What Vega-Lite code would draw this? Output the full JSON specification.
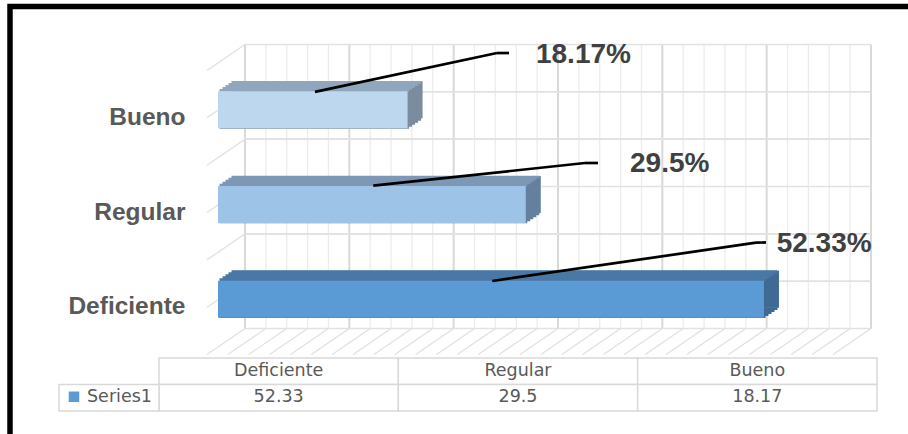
{
  "$schema": "https://vega.github.io/schema/vega-lite/v6.json",
  "width": 898,
  "height": 427.5,
  "autosize": "none",
  "padding": {"left": 10, "top": 6.5, "right": 0, "bottom": 0},
  "background": "white",
  "view": {"stroke": "#000000", "strokeWidth": 5.5, "strokeDash": [898, 1325.5, 427.5], "strokeCap": "square", "fill": "white"},
  "config": {
    "axis": {"disable": true},
    "legend": {"disable": true},
    "locale": {"number": {"decimal": ".", "thousands": ",", "grouping": [3], "currency": ["", "%"]}}
  },
  "datasets": {
    "scores": [
      {"cat": "Deficiente", "value": 52.33},
      {"cat": "Regular", "value": 29.5},
      {"cat": "Bueno", "value": 18.17}
    ],
    "gridlines": [
      {"v": 0}, {"v": 2}, {"v": 4}, {"v": 6}, {"v": 8}, {"v": 10}, {"v": 12}, {"v": 14}, {"v": 16}, {"v": 18},
      {"v": 20}, {"v": 22}, {"v": 24}, {"v": 26}, {"v": 28}, {"v": 30}, {"v": 32}, {"v": 34}, {"v": 36}, {"v": 38},
      {"v": 40}, {"v": 42}, {"v": 44}, {"v": 46}, {"v": 48}, {"v": 50}, {"v": 52}, {"v": 54}, {"v": 56}, {"v": 58}, {"v": 60}
    ],
    "series": [{"series": "Series1"}]
  },
  "layer": [
    {
      "layer": [
        {
          "data": {"name": "gridlines"},
          "mark": {"type": "rule"},
          "encoding": {
            "x": {"field": "v", "type": "quantitative", "scale": {"domain": [0, 60], "range": [235, 861], "nice": false, "zero": false}},
            "y": {"datum": "Bueno", "type": "nominal", "bandPosition": 0, "scale": {"domain": ["Bueno", "Regular", "Deficiente"], "range": [38, 322], "paddingInner": 0, "paddingOuter": 0}},
            "y2": {"datum": "Deficiente", "bandPosition": 1},
            "color": {"condition": {"test": "datum.v % 10 === 0", "value": "#d9d9d9"}, "value": "#ececec"},
            "strokeWidth": {"condition": {"test": "datum.v % 10 === 0", "value": 2}, "value": 1.3}
          }
        },
        {
          "data": {"name": "gridlines"},
          "mark": {"type": "rule", "color": "#e0e0e0", "strokeWidth": 1.2, "x2Offset": -38, "y2Offset": 26},
          "encoding": {
            "x": {"field": "v", "type": "quantitative"},
            "x2": {"field": "v"},
            "y": {"datum": "Deficiente", "type": "nominal", "bandPosition": 1},
            "y2": {"datum": "Deficiente", "bandPosition": 1}
          }
        },
        {
          "data": {"name": "scores"},
          "mark": {"type": "rule", "color": "#e2e2e2", "strokeWidth": 1.6},
          "encoding": {
            "y": {"field": "cat", "type": "nominal", "bandPosition": 0},
            "x": {"datum": 0, "type": "quantitative"},
            "x2": {"datum": 60}
          }
        },
        {
          "data": {"name": "scores"},
          "mark": {"type": "rule", "color": "#e2e2e2", "strokeWidth": 1.6},
          "encoding": {
            "y": {"field": "cat", "type": "nominal", "bandPosition": 0.5},
            "x": {"datum": 0, "type": "quantitative"},
            "x2": {"datum": 60}
          }
        },
        {
          "data": {"name": "scores"},
          "mark": {"type": "rule", "color": "#e2e2e2", "strokeWidth": 1.6},
          "encoding": {
            "y": {"field": "cat", "type": "nominal", "bandPosition": 1},
            "x": {"datum": 0, "type": "quantitative"},
            "x2": {"datum": 60}
          }
        },
        {
          "data": {"name": "scores"},
          "mark": {"type": "rule", "color": "#e0e0e0", "strokeWidth": 1.3, "x2Offset": -38, "y2Offset": 26},
          "encoding": {
            "x": {"datum": 0, "type": "quantitative"},
            "x2": {"datum": 0},
            "y": {"field": "cat", "type": "nominal", "bandPosition": 0},
            "y2": {"field": "cat", "bandPosition": 0}
          }
        },
        {
          "data": {"name": "scores"},
          "mark": {"type": "rule", "color": "#e0e0e0", "strokeWidth": 1.3, "x2Offset": -38, "y2Offset": 26},
          "encoding": {
            "x": {"datum": 0, "type": "quantitative"},
            "x2": {"datum": 0},
            "y": {"field": "cat", "type": "nominal", "bandPosition": 0.5},
            "y2": {"field": "cat", "bandPosition": 0.5}
          }
        },
        {
          "data": {"name": "scores"},
          "mark": {"type": "text", "align": "right", "baseline": "alphabetic", "dx": -59.5, "dy": 33, "font": "Liberation Sans", "fontWeight": "bold", "fontSize": 24.5, "color": "#595959"},
          "encoding": {
            "x": {"datum": 0, "type": "quantitative"},
            "y": {"field": "cat", "type": "nominal"},
            "text": {"field": "cat"}
          }
        },
        {
          "data": {"name": "scores"},
          "mark": {"type": "bar", "size": 37, "xOffset": -12, "yOffset": 8},
          "encoding": {
            "x": {"field": "value", "type": "quantitative"},
            "y": {"field": "cat", "type": "nominal"},
            "fill": {"condition": [{"test": "datum.cat === 'Deficiente'", "value": "#3E6A94"}, {"test": "datum.cat === 'Regular'", "value": "#64809E"}], "value": "#7A8C9E"}
          }
        },
        {
          "data": {"name": "scores"},
          "mark": {"type": "bar", "size": 2.6, "xOffset": -13.5, "yOffset": 27.5},
          "encoding": {
            "x": {"field": "value", "type": "quantitative"},
            "y": {"field": "cat", "type": "nominal"},
            "fill": {"condition": [{"test": "datum.cat === 'Deficiente'", "value": "#3E6A94"}, {"test": "datum.cat === 'Regular'", "value": "#64809E"}], "value": "#7A8C9E"}
          }
        },
        {
          "data": {"name": "scores"},
          "mark": {"type": "bar", "size": 2.6, "xOffset": -16.5, "yOffset": 29.5},
          "encoding": {
            "x": {"field": "value", "type": "quantitative"},
            "y": {"field": "cat", "type": "nominal"},
            "fill": {"condition": [{"test": "datum.cat === 'Deficiente'", "value": "#3E6A94"}, {"test": "datum.cat === 'Regular'", "value": "#64809E"}], "value": "#7A8C9E"}
          }
        },
        {
          "data": {"name": "scores"},
          "mark": {"type": "bar", "size": 2.6, "xOffset": -19.5, "yOffset": 31.5},
          "encoding": {
            "x": {"field": "value", "type": "quantitative"},
            "y": {"field": "cat", "type": "nominal"},
            "fill": {"condition": [{"test": "datum.cat === 'Deficiente'", "value": "#3E6A94"}, {"test": "datum.cat === 'Regular'", "value": "#64809E"}], "value": "#7A8C9E"}
          }
        },
        {
          "data": {"name": "scores"},
          "mark": {"type": "bar", "size": 2.6, "xOffset": -22.5, "yOffset": 33.5},
          "encoding": {
            "x": {"field": "value", "type": "quantitative"},
            "y": {"field": "cat", "type": "nominal"},
            "fill": {"condition": [{"test": "datum.cat === 'Deficiente'", "value": "#3E6A94"}, {"test": "datum.cat === 'Regular'", "value": "#64809E"}], "value": "#7A8C9E"}
          }
        },
        {
          "data": {"name": "scores"},
          "mark": {"type": "bar", "size": 2.6, "xOffset": -25.5, "yOffset": 35.5},
          "encoding": {
            "x": {"field": "value", "type": "quantitative"},
            "y": {"field": "cat", "type": "nominal"},
            "fill": {"condition": [{"test": "datum.cat === 'Deficiente'", "value": "#3E6A94"}, {"test": "datum.cat === 'Regular'", "value": "#64809E"}], "value": "#7A8C9E"}
          }
        },
        {
          "data": {"name": "scores"},
          "mark": {"type": "bar", "size": 2.6, "xOffset": -13.5, "yOffset": -9.5},
          "encoding": {
            "x": {"field": "value", "type": "quantitative"},
            "y": {"field": "cat", "type": "nominal"},
            "fill": {"condition": [{"test": "datum.cat === 'Deficiente'", "value": "#4A78A6"}, {"test": "datum.cat === 'Regular'", "value": "#7C98B4"}], "value": "#8FA6BC"}
          }
        },
        {
          "data": {"name": "scores"},
          "mark": {"type": "bar", "size": 2.6, "xOffset": -16.5, "yOffset": -7.5},
          "encoding": {
            "x": {"field": "value", "type": "quantitative"},
            "y": {"field": "cat", "type": "nominal"},
            "fill": {"condition": [{"test": "datum.cat === 'Deficiente'", "value": "#4A78A6"}, {"test": "datum.cat === 'Regular'", "value": "#7C98B4"}], "value": "#8FA6BC"}
          }
        },
        {
          "data": {"name": "scores"},
          "mark": {"type": "bar", "size": 2.6, "xOffset": -19.5, "yOffset": -5.5},
          "encoding": {
            "x": {"field": "value", "type": "quantitative"},
            "y": {"field": "cat", "type": "nominal"},
            "fill": {"condition": [{"test": "datum.cat === 'Deficiente'", "value": "#4A78A6"}, {"test": "datum.cat === 'Regular'", "value": "#7C98B4"}], "value": "#8FA6BC"}
          }
        },
        {
          "data": {"name": "scores"},
          "mark": {"type": "bar", "size": 2.6, "xOffset": -22.5, "yOffset": -3.5},
          "encoding": {
            "x": {"field": "value", "type": "quantitative"},
            "y": {"field": "cat", "type": "nominal"},
            "fill": {"condition": [{"test": "datum.cat === 'Deficiente'", "value": "#4A78A6"}, {"test": "datum.cat === 'Regular'", "value": "#7C98B4"}], "value": "#8FA6BC"}
          }
        },
        {
          "data": {"name": "scores"},
          "mark": {"type": "bar", "size": 2.6, "xOffset": -25.5, "yOffset": -1.5},
          "encoding": {
            "x": {"field": "value", "type": "quantitative"},
            "y": {"field": "cat", "type": "nominal"},
            "fill": {"condition": [{"test": "datum.cat === 'Deficiente'", "value": "#4A78A6"}, {"test": "datum.cat === 'Regular'", "value": "#7C98B4"}], "value": "#8FA6BC"}
          }
        },
        {
          "data": {"name": "scores"},
          "mark": {"type": "bar", "size": 37, "xOffset": -27, "yOffset": 18},
          "encoding": {
            "x": {"field": "value", "type": "quantitative"},
            "y": {"field": "cat", "type": "nominal"},
            "fill": {"condition": [{"test": "datum.cat === 'Deficiente'", "value": "#5B9BD5"}, {"test": "datum.cat === 'Regular'", "value": "#9DC3E6"}], "value": "#BDD7EE"}
          }
        },
        {
          "data": {"name": "scores"},
          "transform": [{"filter": "datum.cat === 'Bueno'"}],
          "layer": [
            {
              "mark": {"type": "rule", "color": "#000000", "strokeWidth": 2.7, "xOffset": -119.6, "x2Offset": 62.4, "yOffset": 0, "y2Offset": -38.8},
              "encoding": {"x": {"field": "value", "type": "quantitative"}, "x2": {"field": "value"}, "y": {"field": "cat", "type": "nominal", "bandPosition": 0.5}, "y2": {"field": "cat", "bandPosition": 0.5}}
            },
            {
              "mark": {"type": "rule", "color": "#000000", "strokeWidth": 2.7, "xOffset": 62.4, "x2Offset": 74.4, "yOffset": -38.8, "y2Offset": -38.8},
              "encoding": {"x": {"field": "value", "type": "quantitative"}, "x2": {"field": "value"}, "y": {"field": "cat", "type": "nominal", "bandPosition": 0.5}, "y2": {"field": "cat", "bandPosition": 0.5}}
            },
            {
              "mark": {"type": "text", "align": "left", "baseline": "alphabetic", "dx": 101.4, "dy": -28.5, "font": "Liberation Sans", "fontWeight": "bold", "fontSize": 28, "color": "#404040"},
              "encoding": {"x": {"field": "value", "type": "quantitative"}, "y": {"field": "cat", "type": "nominal"}, "text": {"field": "value", "type": "quantitative", "format": "$"}}
            }
          ]
        },
        {
          "data": {"name": "scores"},
          "transform": [{"filter": "datum.cat === 'Regular'"}],
          "layer": [
            {
              "mark": {"type": "rule", "color": "#000000", "strokeWidth": 2.7, "xOffset": -179.5, "x2Offset": 32.2, "yOffset": -0.8, "y2Offset": -23.5},
              "encoding": {"x": {"field": "value", "type": "quantitative"}, "x2": {"field": "value"}, "y": {"field": "cat", "type": "nominal", "bandPosition": 0.5}, "y2": {"field": "cat", "bandPosition": 0.5}}
            },
            {
              "mark": {"type": "rule", "color": "#000000", "strokeWidth": 2.7, "xOffset": 32.2, "x2Offset": 45.2, "yOffset": -23.5, "y2Offset": -23.5},
              "encoding": {"x": {"field": "value", "type": "quantitative"}, "x2": {"field": "value"}, "y": {"field": "cat", "type": "nominal", "bandPosition": 0.5}, "y2": {"field": "cat", "bandPosition": 0.5}}
            },
            {
              "mark": {"type": "text", "align": "left", "baseline": "alphabetic", "dx": 77.2, "dy": -14.8, "font": "Liberation Sans", "fontWeight": "bold", "fontSize": 28, "color": "#404040"},
              "encoding": {"x": {"field": "value", "type": "quantitative"}, "y": {"field": "cat", "type": "nominal"}, "text": {"field": "value", "type": "quantitative", "format": "$"}}
            }
          ]
        },
        {
          "data": {"name": "scores"},
          "transform": [{"filter": "datum.cat === 'Deficiente'"}],
          "layer": [
            {
              "mark": {"type": "rule", "color": "#000000", "strokeWidth": 2.7, "xOffset": -298.7, "x2Offset": -35, "yOffset": -0.2, "y2Offset": -38.5},
              "encoding": {"x": {"field": "value", "type": "quantitative"}, "x2": {"field": "value"}, "y": {"field": "cat", "type": "nominal", "bandPosition": 0.5}, "y2": {"field": "cat", "bandPosition": 0.5}}
            },
            {
              "mark": {"type": "rule", "color": "#000000", "strokeWidth": 2.7, "xOffset": -35, "x2Offset": -25, "yOffset": -38.5, "y2Offset": -38.7},
              "encoding": {"x": {"field": "value", "type": "quantitative"}, "x2": {"field": "value"}, "y": {"field": "cat", "type": "nominal", "bandPosition": 0.5}, "y2": {"field": "cat", "bandPosition": 0.5}}
            },
            {
              "mark": {"type": "text", "align": "left", "baseline": "alphabetic", "dx": -14.3, "dy": -29.5, "font": "Liberation Sans", "fontWeight": "bold", "fontSize": 28, "color": "#404040"},
              "encoding": {"x": {"field": "value", "type": "quantitative"}, "y": {"field": "cat", "type": "nominal"}, "text": {"field": "value", "type": "quantitative", "format": "$"}}
            }
          ]
        }
      ]
    },
    {
      "layer": [
        {
          "data": {"name": "scores"},
          "mark": {"type": "rect", "fill": "white", "stroke": "#d9d9d9", "strokeWidth": 1.5},
          "encoding": {
            "x": {"field": "cat", "type": "nominal", "scale": {"domain": ["Deficiente", "Regular", "Bueno"], "range": [149, 867], "paddingInner": 0, "paddingOuter": 0}},
            "y": {"datum": "header", "type": "nominal", "scale": {"domain": ["header", "values"], "range": [351.5, 404.5], "paddingInner": 0, "paddingOuter": 0}}
          }
        },
        {
          "data": {"name": "scores"},
          "mark": {"type": "rect", "fill": "white", "stroke": "#d9d9d9", "strokeWidth": 1.5},
          "encoding": {
            "x": {"field": "cat", "type": "nominal"},
            "y": {"datum": "values", "type": "nominal"}
          }
        },
        {
          "data": {"name": "series"},
          "mark": {"type": "rect", "fill": "white", "stroke": "#d9d9d9", "strokeWidth": 1.5, "xOffset": -100},
          "encoding": {
            "x": {"datum": "Deficiente", "type": "nominal", "bandPosition": 0},
            "x2": {"datum": "Deficiente", "bandPosition": 0},
            "y": {"datum": "values", "type": "nominal"}
          }
        },
        {
          "data": {"name": "scores"},
          "mark": {"type": "text", "baseline": "alphabetic", "dy": 4.5, "font": "DejaVu Sans", "fontSize": 17.5, "color": "#595959"},
          "encoding": {
            "x": {"field": "cat", "type": "nominal"},
            "y": {"datum": "header", "type": "nominal"},
            "text": {"field": "cat"}
          }
        },
        {
          "data": {"name": "scores"},
          "mark": {"type": "text", "baseline": "alphabetic", "dy": 4.5, "font": "DejaVu Sans", "fontSize": 17.5, "color": "#595959"},
          "encoding": {
            "x": {"field": "cat", "type": "nominal"},
            "y": {"datum": "values", "type": "nominal"},
            "text": {"field": "value", "type": "quantitative", "format": ".4"}
          }
        },
        {
          "data": {"name": "series"},
          "mark": {"type": "point", "shape": "square", "filled": true, "size": 110, "opacity": 1, "color": "#5B9BD5", "xOffset": -85, "yOffset": -1},
          "encoding": {
            "x": {"datum": "Deficiente", "type": "nominal", "bandPosition": 0},
            "y": {"datum": "values", "type": "nominal"}
          }
        },
        {
          "data": {"name": "series"},
          "mark": {"type": "text", "align": "left", "baseline": "alphabetic", "dx": -72, "dy": 4.5, "font": "DejaVu Sans", "fontSize": 17.5, "color": "#595959"},
          "encoding": {
            "x": {"datum": "Deficiente", "type": "nominal", "bandPosition": 0},
            "y": {"datum": "values", "type": "nominal"},
            "text": {"field": "series"}
          }
        }
      ]
    }
  ],
  "resolve": {"scale": {"x": "independent", "y": "independent"}}
}
